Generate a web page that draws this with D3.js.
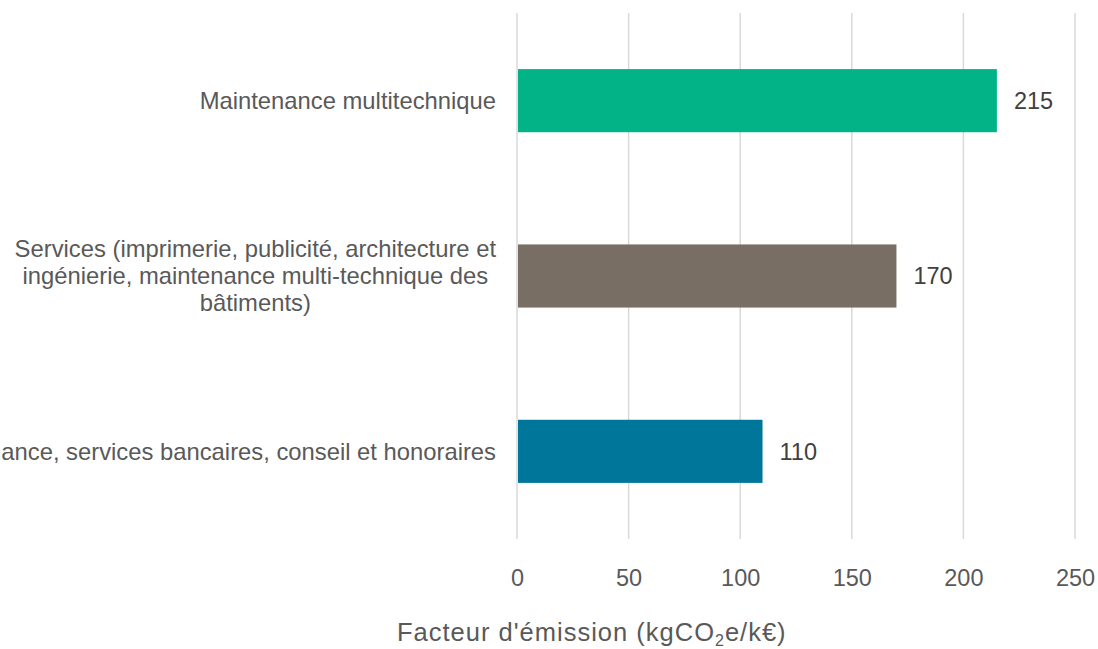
<!DOCTYPE html>
<html>
<head>
<meta charset="utf-8">
<script src="https://cdn.jsdelivr.net/npm/d3@7"></script>
<style>
  body { margin: 0; background: #fff; }
  text { font-family: "Liberation Sans", Arial, sans-serif; }
</style>
</head>
<body>
<script>
// data
var categories = [
  "Maintenance multitechnique",
  "Services (imprimerie, publicité, architecture et|ingénierie, maintenance multi-technique des|bâtiments)",
  "Finance, services bancaires, conseil et honoraires"
];
var values = [215, 170, 110];
var colors = ["#02b388", "#786e63", "#00779a"];
var xTicks = [0, 50, 100, 150, 200, 250];

// set the dimensions and margins of the graph
var W = 1098, H = 649;
var x0 = 517, x1 = 1075, yTop = 13, yBot = 539;

var svg = d3.select('body')
            .append('svg')
            .attr('width', W)
            .attr('height', H);

// set the ranges
var x = d3.scaleLinear().domain([0, 250]).range([x0, x1]);
var y = d3.scaleBand().domain(d3.range(categories.length))
          .range([yTop, yBot]).paddingInner(0.64).paddingOuter(0.32);

// gridlines
svg.selectAll('.grid')
    .data(xTicks)
    .enter()
    .append('line')
    .attr('x1', function(d){ return x(d); })
    .attr('x2', function(d){ return x(d); })
    .attr('y1', yTop)
    .attr('y2', yBot)
    .style('stroke', '#d9d9d9')
    .style('stroke-width', 1.5);

// bars
svg.selectAll('.bar')
    .data(values)
    .enter()
    .append('rect')
    .attr('x', x(0) + 1)
    .attr('y', function(d, i){ return y(i); })
    .attr('width', function(d){ return x(d) - x(0) - 1; })
    .attr('height', y.bandwidth())
    .style('fill', function(d, i){ return colors[i]; });

// value labels
svg.selectAll('.label')
    .data(values)
    .enter()
    .append('text')
    .text(function(d){ return d; })
    .attr('x', function(d){ return x(d) + 17; })
    .attr('y', function(d, i){ return y(i) + y.bandwidth() / 2; })
    .attr('dy', '0.35em')
    .style('font-size', '23.5px')
    .style('fill', '#404040');

// x axis tick labels
svg.append('g')
    .attr('transform', 'translate(0,' + yBot + ')')
    .call(d3.axisBottom(x).tickValues(xTicks).tickSize(0).tickPadding(30))
    .call(function(g){ g.select('.domain').remove(); })
    .selectAll('text')
        .style('font-size', '23.5px')
        .style('font-family', '"Liberation Sans", Arial, sans-serif')
        .style('fill', '#595959');

// category labels (wrapped lines centred in a right-aligned block)
var labelRight = 496, lineH = 27;
categories.forEach(function(c, i) {
    var lines = c.split('|');
    var cy = y(i) + y.bandwidth() / 2;
    var t = svg.append('text')
        .style('font-size', '23.8px')
        .style('fill', '#595959')
        .attr('text-anchor', 'middle');
    var spans = lines.map(function(l, j) {
        return t.append('tspan')
            .attr('y', cy + (j - (lines.length - 1) / 2) * lineH)
            .attr('dy', '0.35em')
            .text(l);
    });
    var maxW = d3.max(spans, function(s){ return s.node().getComputedTextLength(); });
    spans.forEach(function(s){ s.attr('x', labelRight - maxW / 2); });
});

// x axis title
var title = svg.append('text')
    .attr('x', 397)
    .attr('y', 641)
    .style('font-size', '25.5px')
    .style('letter-spacing', '1px')
    .style('fill', '#595959');
title.append('tspan').text("Facteur d'émission (kgCO");
title.append('tspan').text('2').style('font-size', '16px').attr('dy', 5);
title.append('tspan').text('e/k€)').attr('dy', -5);
</script>
</body>
</html>
